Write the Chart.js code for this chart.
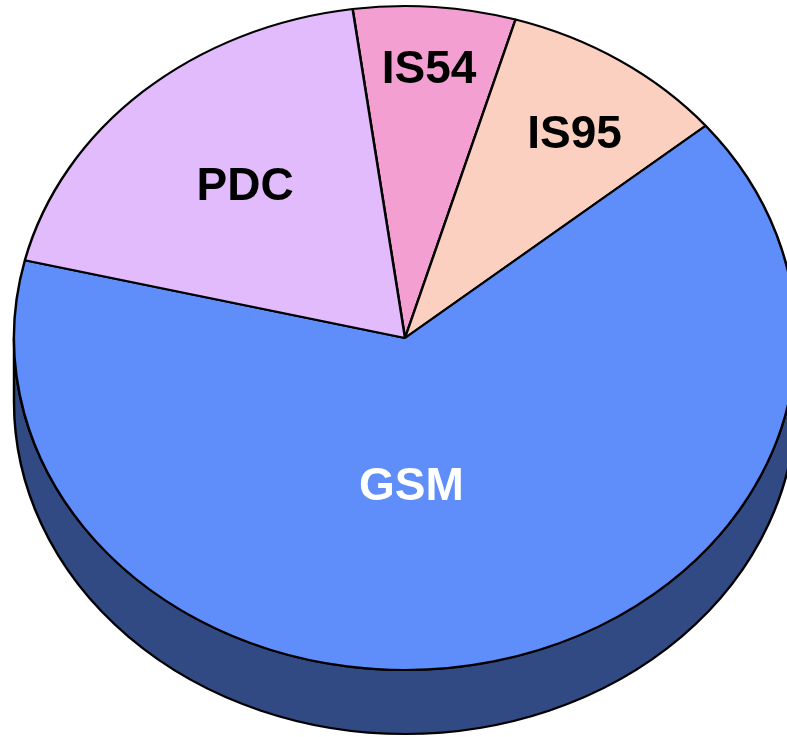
<!DOCTYPE html>
<html>
<head>
<meta charset="utf-8">
<script src="https://cdn.jsdelivr.net/npm/chart.js@4"></script>
<style>
    html, body { margin: 0; padding: 0; background: #fff; overflow: hidden; }
    #wrap { position: relative; width: 787px; height: 737px; }
</style>
</head>
<body>
<div id="wrap"><canvas id="pieChart"></canvas></div>
<script>
// 데이터 (시계방향, 12시 근처에서 시작)
const categories = ['IS54', 'IS95', 'GSM', 'PDC'];
const shares = [6.7, 9.4, 64.8, 19.1];
const sliceColors = ['#F39FD2', '#FBD0C1', '#5F8EFB', '#E1BBFB'];
const labelColors = ['#000000', '#000000', '#FFFFFF', '#000000'];

// 어두운 옆면 색
function darken(hex, f) {
    const n = parseInt(hex.slice(1), 16);
    const r = Math.round(((n >> 16) & 255) * f);
    const g = Math.round(((n >> 8) & 255) * f);
    const b = Math.round((n & 255) * f);
    return `rgb(${r}, ${g}, ${b})`;
}

// 원형 파이를 기울여서 타원 + 두께로 그리는 플러그인
const tiltPlugin = {
    id: 'tilt',
    beforeDatasetsDraw(chart, args, opts) {
        const ctx = chart.ctx;
        const arcs = chart.getDatasetMeta(0).data;
        const a0 = arcs[0];
        const R = a0.outerRadius;
        const sx = opts.rx / R, sy = opts.ry / R;
        ctx.save();
        ctx.translate(opts.cx, opts.cy);
        ctx.scale(sx, sy);
        ctx.translate(-a0.x, -a0.y);

        // 옆면 (앞쪽 반원만 보임)
        const dy = opts.depth / sy;
        const TWO_PI = Math.PI * 2;
        arcs.forEach((arc, i) => {
            let s = arc.startAngle, e = arc.endAngle;
            const k = Math.floor(s / TWO_PI);
            s -= k * TWO_PI; e -= k * TWO_PI;
            [0, TWO_PI].forEach(base => {
                const lo = Math.max(s, base), hi = Math.min(e, base + Math.PI);
                if (hi <= lo) return;
                ctx.beginPath();
                ctx.arc(arc.x, arc.y, R, lo, hi);
                ctx.arc(arc.x, arc.y + dy, R, hi, lo, true);
                ctx.closePath();
                ctx.fillStyle = darken(sliceColors[i], 0.52);
                ctx.fill();
                ctx.lineWidth = opts.lineWidth;
                ctx.strokeStyle = '#000';
                ctx.stroke();
            });
        });
    },
    afterDatasetsDraw(chart, args, opts) {
        const ctx = chart.ctx;
        ctx.restore();

        const arcs = chart.getDatasetMeta(0).data;
        const R = arcs[0].outerRadius;
        const sx = opts.rx / R, sy = opts.ry / R;
        ctx.save();
        ctx.font = 'bold 46px "Liberation Sans", Arial, sans-serif';
        ctx.textAlign = 'center';
        ctx.textBaseline = 'middle';
        arcs.forEach((arc, i) => {
            const spot = opts.labelSpots[categories[i]] || [0, 0.6];
            const mid = (arc.startAngle + arc.endAngle) / 2 + spot[0] * Math.PI / 180;
            const px = Math.cos(mid) * R * spot[1];
            const py = Math.sin(mid) * R * spot[1];
            ctx.fillStyle = labelColors[i];
            ctx.fillText(categories[i], opts.cx + px * sx, opts.cy + py * sy);
        });
        ctx.restore();
    }
};

document.addEventListener('DOMContentLoaded', function() {
    const ctx = document.getElementById('pieChart');

    new Chart(ctx, {
        type: 'pie',
        data: {
            labels: categories,
            datasets: [{
                data: shares,
                backgroundColor: sliceColors,
                borderColor: '#000000',
                borderWidth: 2.3,
                clip: false
            }]
        },
        options: {
            responsive: true,
            maintainAspectRatio: false,
            animation: false,
            events: [],
            rotation: -7.7,
            plugins: {
                legend: { display: false },
                tooltip: { enabled: false },
                tilt: {
                    cx: 405, cy: 338, rx: 391, ry: 332, depth: 64, lineWidth: 2.3,
                    // [각도 보정(도), 반지름 비율]
                    labelSpots: { IS54: [0, 0.81], IS95: [2, 0.75], GSM: [11, 0.45], PDC: [0, 0.61] }
                }
            }
        },
        plugins: [tiltPlugin]
    });
});
</script>
</body>
</html>
